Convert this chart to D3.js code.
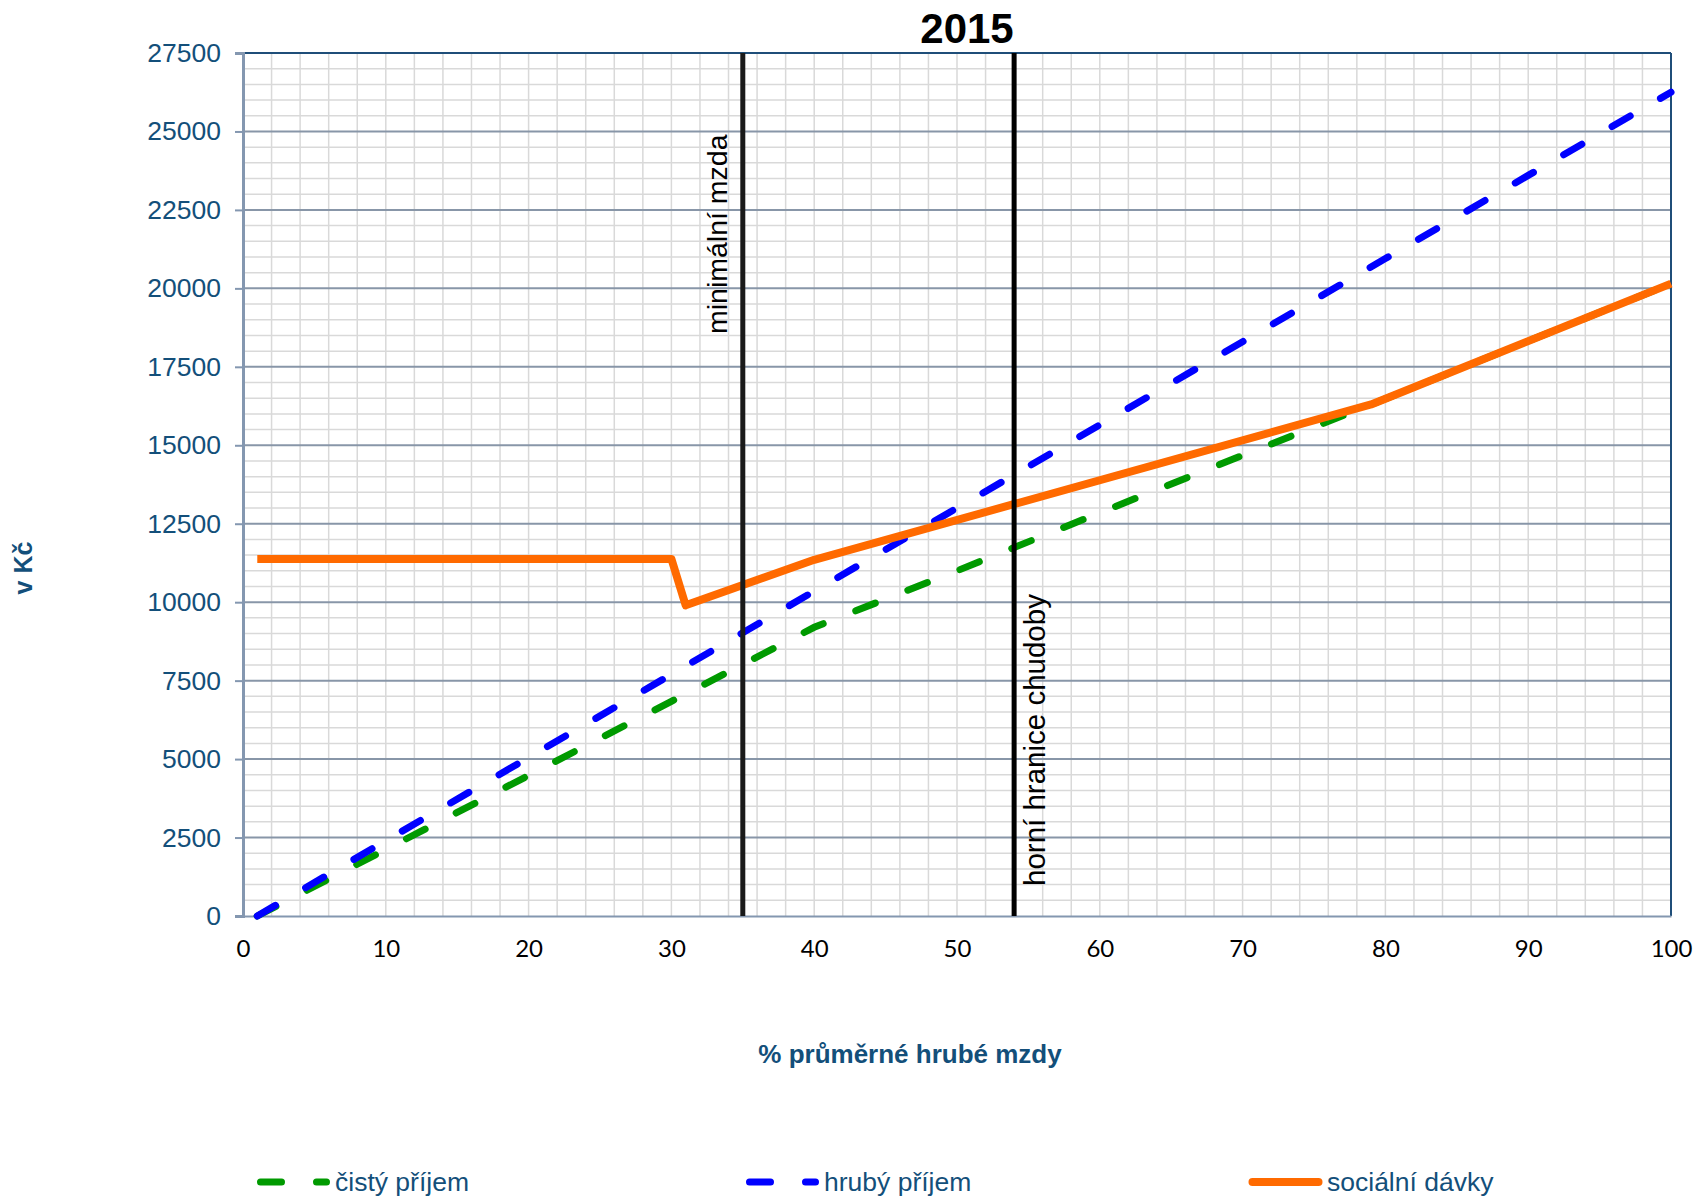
<!DOCTYPE html>
<html lang="cs">
<head>
<meta charset="utf-8">
<script src="https://cdn.jsdelivr.net/npm/d3@7"></script>
<style>
  body { margin: 0; background: #fff; }
  svg { display: block; }
</style>
</head>
<body>
<svg id="chart" width="1695" height="1197"></svg>
<script>
// data (x = % of average gross wage, y = CZK)
var pct = [1, 10, 20, 30, 40, 50, 60, 70, 80, 90, 100];
var hruby = [0, 2400, 5050, 7700, 10350, 13000, 15650, 18300, 20950, 23600, 26250];
var cisty = [0, 2120, 4480, 6840, 9200, 11000, 12850, 14680, 16480, 18320, 20150];
var davkyPct = [1, 30, 31, 40, 79, 80, 90, 100];
var davky = [11380, 11380, 9900, 11350, 16300, 16480, 18320, 20150];
var xTicks = [0, 10, 20, 30, 40, 50, 60, 70, 80, 90, 100];
var yTicks = [0, 2500, 5000, 7500, 10000, 12500, 15000, 17500, 20000, 22500, 25000, 27500];
var markers = [{x: 35, label: "minimální mzda"}, {x: 54, label: "horní hranice chudoby"}];

var svg = d3.select("#chart");
var padL = 243, padT = 53, w = 1428, h = 863;
var x = d3.scaleLinear().domain([0, 100]).range([padL, padL + w]);
var y = d3.scaleLinear().domain([0, 27500]).range([padT + h, padT]);
var navy = "#134f7a";
var arial = "'Liberation Sans', Arial, sans-serif";

// minor grid
svg.append("g").selectAll("line").data(d3.range(2, 100, 2)).enter().append("line")
  .attr("x1", function(d){ return x(d); }).attr("x2", function(d){ return x(d); })
  .attr("y1", padT).attr("y2", padT + h)
  .attr("stroke", "#d9d9d9").attr("stroke-width", 1.5);
svg.append("g").selectAll("line").data(d3.range(500, 27500, 500).filter(function(d){ return d % 2500 != 0; }))
  .enter().append("line")
  .attr("x1", padL).attr("x2", padL + w)
  .attr("y1", function(d){ return y(d); }).attr("y2", function(d){ return y(d); })
  .attr("stroke", "#d9d9d9").attr("stroke-width", 1.5);
// major horizontal grid
svg.append("g").selectAll("line").data(yTicks.slice(1, -1)).enter().append("line")
  .attr("x1", padL).attr("x2", padL + w)
  .attr("y1", function(d){ return y(d); }).attr("y2", function(d){ return y(d); })
  .attr("stroke", "#8896a8").attr("stroke-width", 2);

// frame
svg.append("line").attr("x1", padL).attr("x2", padL + w).attr("y1", padT).attr("y2", padT)
  .attr("stroke", "#1f4e79").attr("stroke-width", 2);
svg.append("line").attr("x1", padL + w).attr("x2", padL + w).attr("y1", padT).attr("y2", padT + h)
  .attr("stroke", "#1f4e79").attr("stroke-width", 2);

// y axis
var yAxis = d3.axisLeft(y).tickValues(yTicks).tickSize(8).tickPadding(14).tickFormat(d3.format("d"));
var gy = svg.append("g").attr("transform", "translate(" + padL + ",0)").call(yAxis);
gy.select(".domain").attr("stroke", "#8497b0").attr("stroke-width", 3);
gy.selectAll(".tick line").attr("stroke", "#8497b0").attr("stroke-width", 2);
gy.selectAll(".tick text").attr("fill", navy)
  .style("font-family", arial).style("font-size", "26.5px");

// x axis
var xAxis = d3.axisBottom(x).tickValues(xTicks).tickSize(0).tickPadding(24);
var gx = svg.append("g").attr("transform", "translate(0," + (padT + h) + ")").call(xAxis);
gx.select(".domain").attr("stroke", "#8497b0").attr("stroke-width", 2);
gx.selectAll(".tick text").attr("fill", "#000")
  .style("font-family", "Lato, 'Open Sans', sans-serif").style("font-size", "24px");

// series
var line = d3.line().x(function(d){ return x(d[0]); }).y(function(d){ return y(d[1]); });
var greenPts = pct.map(function(p, i){ return [p, cisty[i]]; });
var bluePts = pct.map(function(p, i){ return [p, hruby[i]]; });
var orangePts = davkyPct.map(function(p, i){ return [p, davky[i]]; });

svg.append("path").datum(greenPts).attr("d", line).attr("fill", "none")
  .attr("stroke", "#009a00").attr("stroke-width", 7).attr("stroke-linecap", "round")
  .attr("stroke-dasharray", "21 35");
svg.append("path").datum(bluePts).attr("d", line).attr("fill", "none")
  .attr("stroke", "#0000ff").attr("stroke-width", 7).attr("stroke-linecap", "round")
  .attr("stroke-dasharray", "21 35");
svg.append("path").datum(orangePts).attr("d", line).attr("fill", "none")
  .attr("stroke", "#ff6a00").attr("stroke-width", 8).attr("stroke-linejoin", "round");

// vertical markers
svg.append("g").selectAll("line").data(markers).enter().append("line")
  .attr("x1", function(d){ return x(d.x); }).attr("x2", function(d){ return x(d.x); })
  .attr("y1", padT).attr("y2", padT + h)
  .attr("stroke", function(d, i){ return i == 0 ? "#1a1a1a" : "#000"; }).attr("stroke-width", 5);

svg.append("text").text(markers[0].label)
  .attr("transform", "translate(" + (x(markers[0].x) - 16) + "," + 334 + ") rotate(-90)")
  .style("font-family", arial).style("font-size", "28.5px").attr("fill", "#000");
svg.append("text").text(markers[1].label)
  .attr("transform", "translate(" + (x(markers[1].x) + 31) + "," + 886 + ") rotate(-90)")
  .style("font-family", arial).style("font-size", "29.5px").attr("fill", "#000");

// titles
svg.append("text").text("2015").attr("x", 967).attr("y", 43).attr("text-anchor", "middle")
  .style("font-family", arial).style("font-size", "42px")
  .style("font-weight", "bold").attr("fill", "#000");
svg.append("text").text("% průměrné hrubé mzdy").attr("x", 910).attr("y", 1063).attr("text-anchor", "middle")
  .style("font-family", arial).style("font-size", "26px")
  .style("font-weight", "bold").attr("fill", navy);
svg.append("text").text("v Kč").attr("transform", "translate(32,568) rotate(-90)").attr("text-anchor", "middle")
  .style("font-family", arial).style("font-size", "25px")
  .style("font-weight", "bold").attr("fill", navy);

// legend
var legend = [
  {name: "čistý příjem", color: "#009a00", dash: "21 35", x: 257},
  {name: "hrubý příjem", color: "#0000ff", dash: "21 35", x: 746},
  {name: "sociální dávky", color: "#ff6a00", dash: null, x: 1249}
];
var lg = svg.append("g").selectAll("g").data(legend).enter().append("g")
  .attr("transform", function(d){ return "translate(" + d.x + ",1182)"; });
lg.append("line").attr("x1", 3.5).attr("x2", 69.5).attr("y1", 0).attr("y2", 0)
  .attr("stroke", function(d){ return d.color; }).attr("stroke-width", function(d){ return d.dash ? 7 : 8; })
  .attr("stroke-linecap", "round")
  .attr("stroke-dasharray", function(d){ return d.dash; });
lg.append("text").text(function(d){ return d.name; }).attr("x", 78).attr("y", 9)
  .style("font-family", arial).style("font-size", "26.5px").attr("fill", navy);
</script>
</body>
</html>
